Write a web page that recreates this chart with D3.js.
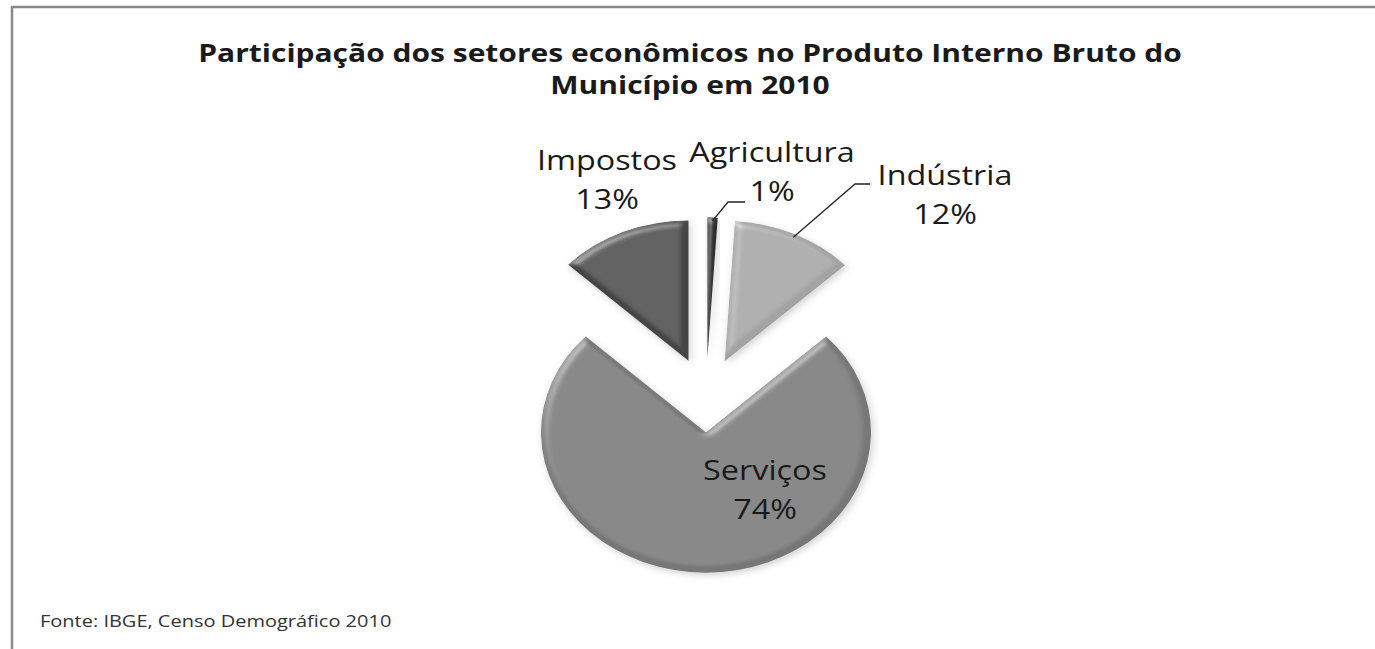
<!DOCTYPE html>
<html>
<head>
<meta charset="utf-8">
<script src="https://cdn.jsdelivr.net/npm/d3@7"></script>
<style>
  body { margin: 0; background: #fff; }
  text { font-family: "Open Sans", Lato, sans-serif; fill: #1a1a1a; }
</style>
</head>
<body>
<div id="chart"></div>
<script>
// chart data
var sectors = ["Agricultura", "Indústria", "Serviços", "Impostos"];
var shares = [1, 12, 74, 13];
var titleLines = ["Participação dos setores econômicos no Produto Interno Bruto do", "Município em 2010"];
var sourceNote = "Fonte: IBGE, Censo Demográfico 2010";

// dimensions
var width = 1375;
var height = 649;
var cx = 706, cy = 395;
var radius = 165;
var squash = 0.85;   // the original picture is stretched sideways
var stretch = 1 / squash;
var explode = 44;

var colors = {
  "Agricultura": "#2e2e2e",
  "Indústria": "#a3a3a3",
  "Serviços": "#777777",
  "Impostos": "#444444"
};

// label placement relative to the pie centre (first line baseline)
var labelPos = {
  "Agricultura": { dx: 66, dy: -233, leader: [[728, 202], [745, 202]] },
  "Indústria": { dx: 239, dy: -210, leader: [[855, 184], [870, 184]] },
  "Serviços": { dx: 59, dy: 85 },
  "Impostos": { dx: -99, dy: -225 }
};

function place(x, y) {
  return "translate(" + x + "," + y + ")scale(" + stretch + ",1)";
}

window.onload = function() {
  var svg = d3.select("#chart")
    .append("svg")
    .attr("width", width)
    .attr("height", height);

  var defs = svg.append("defs");

  // bevel + soft shadow, to get close to the office look
  var bevel = defs.append("filter").attr("id", "bevel")
    .attr("x", "-20%").attr("y", "-20%").attr("width", "140%").attr("height", "140%");
  bevel.append("feGaussianBlur").attr("in", "SourceAlpha").attr("stdDeviation", 4).attr("result", "blur");
  var spec = bevel.append("feSpecularLighting").attr("in", "blur")
    .attr("surfaceScale", 4).attr("specularConstant", 0.3).attr("specularExponent", 16)
    .attr("lighting-color", "#ffffff").attr("result", "spec");
  spec.append("feDistantLight").attr("azimuth", 235).attr("elevation", 40);
  bevel.append("feComposite").attr("in", "spec").attr("in2", "SourceAlpha").attr("operator", "in").attr("result", "specIn");
  bevel.append("feComposite").attr("in", "SourceGraphic").attr("in2", "specIn")
    .attr("operator", "arithmetic").attr("k1", 0).attr("k2", 1).attr("k3", 1).attr("k4", 0).attr("result", "lit");
  bevel.append("feDropShadow").attr("dx", 2).attr("dy", 3).attr("stdDeviation", 4)
    .attr("flood-color", "#000").attr("flood-opacity", 0.18);

  // outer frame
  svg.append("rect")
    .attr("x", 12).attr("y", 7)
    .attr("width", width).attr("height", height + 20)
    .attr("fill", "#fff")
    .attr("stroke", "#8a8a8a")
    .attr("stroke-width", 2.5);

  // title
  svg.selectAll(".title")
    .data(titleLines)
    .enter()
    .append("text")
    .attr("class", "title")
    .attr("text-anchor", "middle")
    .attr("transform", function(d, i) { return place(690, 62 + i * 32); })
    .style("font-weight", "bold")
    .style("font-size", "25.5px")
    .text(function(d) { return d; });

  var data = sectors.map(function(s, i) { return { name: s, value: shares[i] }; });

  var pie = d3.pie()
    .sort(null)
    .value(function(d) { return d.value; });

  var arc = d3.arc()
    .innerRadius(0)
    .outerRadius(radius);

  var arcs = pie(data);

  var slices = svg.append("g")
    .selectAll("g")
    .data(arcs)
    .enter()
    .append("g")
    .attr("transform", function(d) {
      var mid = (d.startAngle + d.endAngle) / 2;
      var ox = Math.sin(mid) * explode;
      var oy = -Math.cos(mid) * explode * squash;
      return "translate(" + (cx + ox) + "," + (cy + oy) + ")scale(1," + squash + ")";
    });

  slices.append("path")
    .attr("d", arc)
    .attr("fill", function(d) { return colors[d.data.name]; })
    .attr("filter", "url(#bevel)");

  // leader lines for the small slices
  arcs.forEach(function(d) {
    var lp = labelPos[d.data.name];
    if (!lp.leader) return;
    var mid = (d.startAngle + d.endAngle) / 2;
    var sx = cx + Math.sin(mid) * (explode + radius - 4);
    var sy = cy - Math.cos(mid) * (explode + radius - 4) * squash;
    var pts = [[sx, sy]].concat(lp.leader);
    svg.append("path")
      .attr("d", d3.line()(pts))
      .attr("fill", "none")
      .attr("stroke", "#222")
      .attr("stroke-width", 1.3);
  });

  // labels
  var labels = svg.append("g")
    .selectAll("g")
    .data(arcs)
    .enter()
    .append("g")
    .attr("transform", function(d) {
      var lp = labelPos[d.data.name];
      return place(cx + lp.dx, cy + lp.dy);
    });

  labels.append("text")
    .attr("text-anchor", "middle")
    .style("font-size", "27.5px")
    .text(function(d) { return d.data.name; });

  labels.append("text")
    .attr("text-anchor", "middle")
    .attr("y", 39)
    .style("font-size", "27.5px")
    .text(function(d) { return d.data.value + "%"; });

  // source note
  svg.append("text")
    .attr("transform", place(40, 627))
    .style("font-size", "17px")
    .style("fill", "#333")
    .text(sourceNote);
};
</script>
</body>
</html>
